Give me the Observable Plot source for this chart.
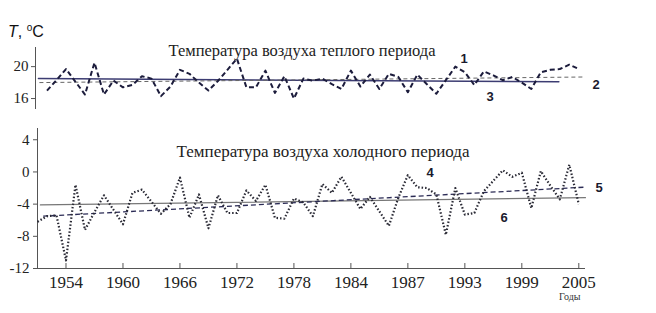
<!DOCTYPE html>
<html><head><meta charset="utf-8">
<script src="https://cdn.jsdelivr.net/npm/d3@7"></script>
<script src="https://cdn.jsdelivr.net/npm/@observablehq/plot@0.6"></script>
<style>
body{margin:0;background:#fff;}
#wrap{position:relative;width:656px;height:313px;overflow:hidden;background:#fff;}
#wrap svg{position:absolute;left:0;top:0;}
#unit{position:absolute;left:8px;top:24px;font:16px/16px "Liberation Sans",Arial,sans-serif;color:#111;white-space:nowrap;z-index:2;}
#unit .o{font-size:10px;position:relative;top:-6px;}
</style></head><body>
<div id="wrap"><div id="unit"><i>T</i>, <span class="o">o</span>C</div></div>
<script>
// ---- data ----
const warmYears = d3.range(1952, 2009);
const warmT = [17.0,18.3,19.7,18.1,16.5,20.5,16.5,18.25,17.4,17.7,
  18.8,18.5,16.3,17.5,19.6,19.1,18.0,17.0,18.2,19.6,
  21.0,17.4,17.4,19.5,16.7,18.8,16.0,18.5,18.25,18.5,
  17.8,17.2,19.5,17.5,19.0,17.2,19.1,18.7,16.8,19.0,
  17.8,16.6,18.3,20.0,19.3,17.7,19.4,18.9,18.3,18.7,
  18.0,17.2,19.3,19.6,19.7,20.25,19.7];
const coldYears = d3.range(1951, 2009);
const coldT = [-6.2,-5.5,-5.4,-11.0,-1.6,-7.2,-5.0,-2.9,-4.7,-6.5,
  -2.6,-2.2,-3.7,-5.2,-4.0,-0.7,-5.7,-2.8,-7.0,-2.9,
  -5.1,-5.1,-2.3,-3.6,-1.6,-5.7,-5.8,-3.3,-3.8,-5.5,
  -1.5,-2.6,-0.6,-2.6,-4.6,-3.1,-4.9,-6.7,-3.2,-0.4,
  -1.9,-2.0,-2.8,-7.8,-2.0,-5.3,-5.1,-2.4,-1.1,0.2,
  -0.6,-0.1,-4.5,0.1,-1.7,-3.4,0.9,-4.0];
// trend lines (end points)
const warmTrendYears = [1951.2, 2008.5];
const warmTrendVals = [18.0, 18.7];      // line 2 (dashed)
const warmMeanYears = [1951.1, 2005.9];
const warmMeanVals = [18.5, 18.1];       // line 3 (solid)
const coldTrendYears = [1951.6, 2008.5];
const coldTrendVals = [-5.5, -1.9];      // line 5 (dashed)
const coldMeanYears = [1951.3, 2008.7];
const coldMeanVals = [-4.1, -3.2];       // line 6 (solid)
// axes
const warmTicks = [16, 20];
const coldTicks = [-12, -8, -4, 0, 4];
const tickYears = [1954, 1960, 1966, 1972, 1978, 1984, 1990, 1996, 2002, 2008];
const tickLabels = ["1954","1960","1966","1972","1978","1984","1987","1993","1999","2005"];
const titleWarm = "Температура воздуха теплого периода";
const titleCold = "Температура воздуха холодного периода";
const xTitle = "Годы";

// ---- build ----
const W = 656, H = 313;
const serif = '"Liberation Serif","Times New Roman",serif';
const sans = '"Liberation Sans",Arial,sans-serif';
const xScale = {domain: [1951, 2008.6], range: [37, 584]};
const pts = (ys, vs) => ys.map((y, i) => ({year: y, t: vs[i]}));
const warm = pts(warmYears, warmT), cold = pts(coldYears, coldT);
const numLabel = (txt, dx, dy) => Plot.text([txt], {frameAnchor: "top-left", dx, dy, fontFamily: sans, fontWeight: "bold", fontSize: 13, fill: "#1a1a2e"});

const topPlot = Plot.plot({
  width: W, height: H, marginLeft: 35, marginTop: 47, marginBottom: H - 108, marginRight: W - 584,
  style: {background: "transparent", fontFamily: serif, fontSize: "15px", color: "#222", overflow: "visible"},
  x: {...xScale, axis: null},
  y: {domain: [14.75, 22.4], axis: null},
  marks: [
    Plot.frame({anchor: "left", stroke: "#555"}),
    Plot.axisY({ticks: warmTicks, tickSize: 4, tickPadding: 3, tickFormat: d => String(d), fontSize: 15, label: null, stroke: "#555", fill: "#222"}),
    Plot.text([titleWarm], {frameAnchor: "top", dx: -8, dy: -3, fontFamily: serif, fontSize: 16.5, fill: "#222"}),
    Plot.line(pts(warmMeanYears, warmMeanVals), {x: "year", y: "t", stroke: "#3c3c72", strokeWidth: 1.5}),
    Plot.line(pts(warmTrendYears, warmTrendVals), {x: "year", y: "t", stroke: "#666", strokeWidth: 1, strokeDasharray: "4,3", strokeLinecap: "butt"}),
    Plot.line(warm, {x: "year", y: "t", stroke: "#1c1c3c", strokeWidth: 2, strokeDasharray: "5,3", strokeLinecap: "butt"}),
    numLabel("1", 425, 6), numLabel("2", 557, 32), numLabel("3", 451, 44)
  ]
});

const frameH = H - 128 - 45;
const botPlot = Plot.plot({
  width: W, height: H, marginLeft: 37, marginTop: 128, marginBottom: 45, marginRight: W - 584,
  style: {background: "transparent", fontFamily: serif, fontSize: "15px", color: "#222", overflow: "visible"},
  x: {...xScale, axis: null},
  y: {domain: [-12, 5.4], axis: null},
  marks: [
    Plot.frame({anchor: "left", stroke: "#555"}),
    Plot.frame({anchor: "bottom", stroke: "#555"}),
    Plot.axisY({ticks: coldTicks, tickSize: 4, tickPadding: 4, tickFormat: d => String(d), fontSize: 15, label: null, stroke: "#555", fill: "#222"}),
    Plot.axisX({ticks: tickYears, tickSize: 0, tickPadding: 7, tickFormat: d => tickLabels[tickYears.indexOf(d)], fontSize: 17, label: null, fill: "#222"}),
    Plot.ruleX(tickYears, {x: d => d, insetTop: frameH - 5, stroke: "#555"}),
    Plot.text([xTitle], {frameAnchor: "bottom-right", dx: -4, dy: 31, fontFamily: serif, fontSize: 10, fill: "#333"}),
    Plot.text([titleCold], {frameAnchor: "top", dx: 12, dy: 16, fontFamily: serif, fontSize: 17, fill: "#222"}),
    Plot.line(pts(coldMeanYears, coldMeanVals), {x: "year", y: "t", stroke: "#777", strokeWidth: 1.2}),
    Plot.line(pts(coldTrendYears, coldTrendVals), {x: "year", y: "t", stroke: "#2b2b55", strokeWidth: 1.3, strokeDasharray: "5,3", strokeLinecap: "butt"}),
    Plot.line(cold, {x: "year", y: "t", stroke: "#2a2a35", strokeWidth: 2.2, strokeDasharray: "1.5,2", strokeLinecap: "butt"}),
    numLabel("4", 389, 39), numLabel("5", 558, 54), numLabel("6", 463, 84)
  ]
});

const wrap = document.getElementById("wrap");
wrap.appendChild(topPlot);
wrap.appendChild(botPlot);
</script>
</body></html>
